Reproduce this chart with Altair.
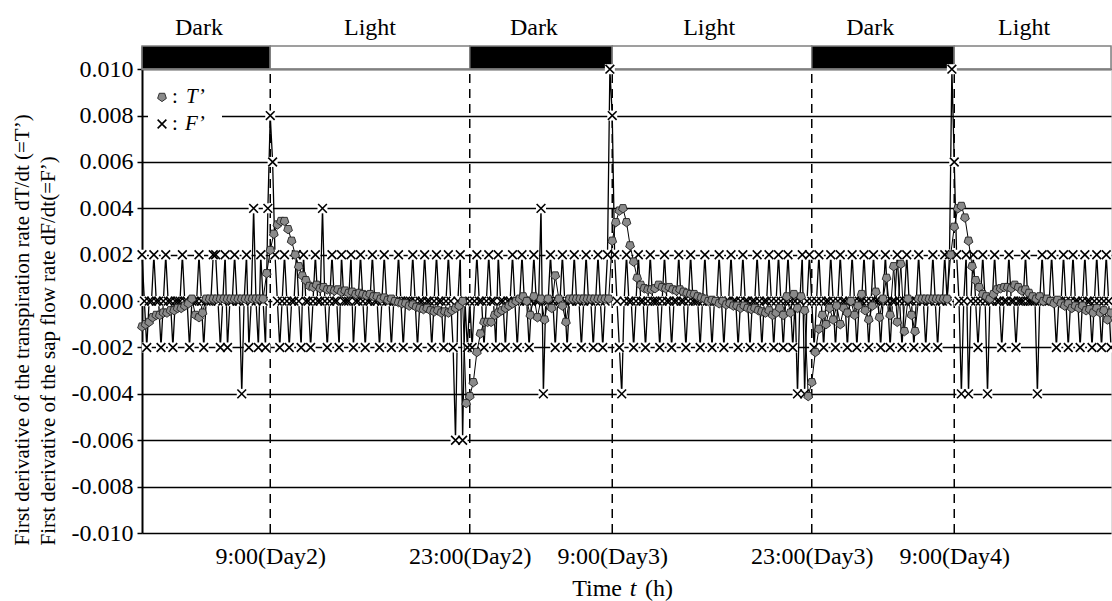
import altair as alt
import pandas as pd

# ---- light / dark periods (hours from 0:00 of Day 2) ----
PERIODS = ["Dark", "Light", "Dark", "Light", "Dark", "Light"]
PERIOD_START = [0, 9, 23, 33, 47, 57]
PERIOD_END = [9, 23, 33, 47, 57, 68]
LABEL_H = [4.0, 16.0, 27.5, 39.8, 51.1, 61.9]

# ---- x tick labels ----
TICK_H = [9, 23, 33, 47, 57]
TICK_LABELS = ["9:00(Day2)", "23:00(Day2)", "9:00(Day3)", "23:00(Day3)", "9:00(Day4)"]
Y_TICKS = [-0.010, -0.008, -0.006, -0.004, -0.002, 0.0, 0.002, 0.004, 0.006, 0.008, 0.010]

F_STEP_H = 1 / 6   # F' sampled every 10 min
T_STEP_H = 0.25    # T' sampled every 15 min

# ---- F' = dF/dt (units of 0.001), per period ----
F_DARK1 = [2, 0, -2, 0, 0, 2, 0, 0, -2, 0,
           2, 0, 0, -2, 0, 0, 0, 2, 0, 0,
           -2, 0, 0, 0, 2, 0, -2, 0, 0, 0,
           2, 2, 0, -2, 0, 2, -2, 0, 0, 2,
           0, 0, -4, 0, 2, -2, 0, 4, 0, -2,
           2, 0, -2, 4]
F_LIGHT1 = [8, 6, 2, 0, -2, 0, 2, 0, -2, 0,
            0, 2, 0, -2, 2, 0, 0, -2, 0, 2,
            0, 0, 4, 0, -2, 0, 2, 0, 0, -2,
            2, 0, 0, 0, 2, -2, 0, 0, 2, 0,
            -2, 0, 0, 2, 0, 0, -2, 0, 2, 0,
            0, -2, 0, 0, 2, 0, -2, 0, 0, 0,
            2, 0, -2, 0, 0, 2, 0, 0, -2, 0,
            2, 0, 0, -2, 0, 2, 0, -2, -6, 0,
            2, -6, 0, -2]
F_DARK2 = [0, -2, 0, 2, 0, 0, -2, 0, 2, 0,
           0, -2, 2, 0, 0, -2, 0, 0, 2, 0,
           -2, 0, 2, 0, 0, -2, 0, 2, 0, 0,
           4, -4, 0, 0, 2, 0, -2, 0, 0, 2,
           0, -2, 0, 0, 2, 0, 0, -2, 0, 2,
           0, 0, -2, 0, 2, 0, -2, 0, 2, 10]
F_LIGHT2 = [8, 2, 0, -2, -4, 0, 2, 0, 0, -2,
            0, 2, 0, 0, -2, 0, 2, 0, 0, 0,
            -2, 0, 2, 0, 0, -2, 0, 0, 2, 0,
            0, -2, 0, 2, 0, 0, 0, -2, 0, 2,
            0, 0, -2, 0, 0, 2, 0, -2, 0, 0,
            2, 0, 0, -2, 0, 2, 0, 0, -2, 0,
            0, 2, 0, -2, 0, 0, 2, 0, -2, 0,
            2, 0, -2, 0, 2, 0, -2, 0, -4, 0,
            2, -4, 0, 2]
F_DARK3 = [0, -2, 0, 2, 0, -2, 0, 0, 2, 0,
           -2, 0, 2, 0, 0, -2, 0, 2, 0, -2,
           0, 0, 2, 0, -2, 0, 2, 0, 0, -2,
           0, 2, 0, -2, 0, 0, 2, 0, -2, 0,
           2, 0, 0, -2, 0, 2, 0, 0, -2, 0,
           0, 2, 0, -2, 0, 0, 2, 0, 2, 10]
F_LIGHT3 = [6, 2, 0, -4, 0, 2, -4, 0, 2, 0,
            -2, 0, 2, 0, -4, 0, 0, 2, 0, 0,
            -2, 0, 0, 2, 0, 0, -2, 0, 0, 0,
            2, 0, 0, 0, 0, -4, 0, 2, 0, 0,
            0, 2, 0, -2, 0, 0, 2, 0, -2, 0,
            2, 0, 0, -2, 0, 2, 0, 0, -2, 0,
            2, 0, -2, 0, 2, 0, -2]

# ---- T' = dT/dt (units of 0.001), per period ----
T_DARK1 = [-1.1, -1.0, -0.9, -0.7, -0.6, -0.6, -0.5, -0.5, -0.4, -0.4,
           -0.3, -0.3, -0.2, -0.1, 0.1, -0.6, -0.7, -0.5, 0.1, 0.1,
           0.1, 0.1, 0.1, 0.1, 0.1, 0.1, 0.1, 0.1, 0.1, 0.1,
           0.1, 0.1, 0.1, 0.1, 0.1, 1.2]
T_LIGHT1 = [2.2, 2.9, 3.3, 3.45, 3.45, 3.1, 2.6, 2.0, 1.5, 1.1,
            0.9, 0.65, 0.6, 0.7, 0.55, 0.6, 0.5, 0.5, 0.45, 0.5,
            0.4, 0.45, 0.35, 0.4, 0.3, 0.35, 0.3, 0.25, 0.3, 0.2,
            0.2, 0.1, 0.15, 0.05, 0.1, 0.0, -0.05, -0.1, -0.1, -0.2,
            -0.15, -0.25, -0.3, -0.35, -0.3, -0.4, -0.45, -0.4, -0.5, -0.45,
            -0.5, -0.4, -0.3, -0.2, 0.0, -4.4]
T_DARK2 = [-4.1, -3.5, -2.2, -1.4, -0.9, -0.9, -0.9, -0.6, -0.5, -0.4,
           -0.3, -0.2, -0.1, 0.0, 0.1, 0.2, 0.0, -0.6, 0.2, -0.7,
           0.1, -0.8, 0.1, -0.3, 1.1, 0.1, -0.2, -0.9, 0.1, 0.1,
           0.1, 0.1, 0.1, 0.1, 0.1, 0.1, 0.1, 0.1, 0.1, 0.1]
T_LIGHT2 = [2.6, 3.4, 3.9, 4.0, 3.4, 2.4, 1.7, 1.0, 0.7, 0.55,
            0.5, 0.5, 0.55, 0.7, 0.6, 0.55, 0.6, 0.5, 0.45, 0.5,
            0.4, 0.35, 0.3, 0.3, 0.2, 0.15, 0.1, 0.0, 0.05, 0.0,
            -0.1, 0.0, -0.15, -0.1, -0.2, -0.2, -0.3, -0.2, -0.3, -0.35,
            -0.3, -0.4, -0.45, -0.5, -0.4, -0.6, -0.5, -0.3, -0.6, 0.2,
            -0.5, 0.3, -0.3, 0.2, -0.4, -4.1]
T_DARK3 = [-3.5, -2.2, -1.2, -0.6, -1.0, -0.3, -0.8, -0.2, -1.0, -0.3,
           -0.5, 0.0, -0.6, -0.2, 0.3, -0.4, -0.8, -0.2, 0.4, -0.7,
           0.1, 1.0, -0.6, 1.5, -0.9, 1.6, -1.3, 0.1, -0.6, -1.3,
           0.1, 0.1, 0.1, 0.1, 0.1, 0.1, 0.1, 0.1, 0.1, 2.0]
T_LIGHT3 = [3.2, 4.0, 4.1, 3.6, 2.6, 1.5, 0.9, 0.6, 0.3, 0.2,
            0.1, 0.3, 0.5, 0.55, 0.6, 0.6, 0.55, 0.7, 0.6, 0.45,
            0.5, 0.35, 0.2, 0.1, 0.2, 0.0, 0.1, 0.0, -0.1, 0.05,
            -0.1, -0.2, -0.1, -0.3, -0.2, -0.3, -0.2, -0.4, -0.35, -0.5,
            -0.3, -0.5, -0.4, -0.8, -0.5]

F_SEGS = [F_DARK1, F_LIGHT1, F_DARK2, F_LIGHT2, F_DARK3, F_LIGHT3]
T_SEGS = [T_DARK1, T_LIGHT1, T_DARK2, T_LIGHT2, T_DARK3, T_LIGHT3]

f_rows, t_rows = [], []
for start, fs, ts in zip(PERIOD_START, F_SEGS, T_SEGS):
    for i, f in enumerate(fs):
        f_rows.append({"h": start + i * F_STEP_H, "F": f / 1000.0})
    for i, t in enumerate(ts):
        t_rows.append({"h": start + i * T_STEP_H, "T": t / 1000.0})
df_f = pd.DataFrame(f_rows)
df_t = pd.DataFrame(t_rows)

periods = pd.DataFrame({"p": PERIODS, "s": PERIOD_START, "e": PERIOD_END, "lh": LABEL_H})
ticks = pd.DataFrame({"h": TICK_H})
one = pd.DataFrame({"a": [0]})

FONT = "Liberation Serif"
W, H = 969, 487

xs = alt.Scale(domain=[0, 68], nice=False, zero=False)
ys = alt.Scale(domain=[-0.010, 0.011], nice=False, zero=False)

label_expr = " : ".join(
    f"datum.value == {h} ? '{lab}'" for h, lab in zip(TICK_H, TICK_LABELS)
) + " : ''"

x_axis = alt.Axis(values=TICK_H, labelExpr=label_expr, ticks=False, grid=False,
                  domain=False, labelFont=FONT, labelFontSize=24, labelColor="black",
                  labelPadding=11, title=None, labelFlush=False, labelOverlap=False)
y_axis = alt.Axis(values=Y_TICKS,
                  labelExpr="replace(format(datum.value, '.3f'), '\u2212', '-')",
                  grid=True, gridColor="black", gridWidth=1.5,
                  tickColor="black", tickWidth=1.5, tickSize=5,
                  domainColor="black", domainWidth=2,
                  labelFont=FONT, labelFontSize=24, labelColor="black", labelPadding=4,
                  title=["First derivative of the transpiration rate dT/dt (=T\u2019)",
                         "First derivative of the sap flow rate dF/dt(=F\u2019)"],
                  titleFont=FONT, titleFontSize=21, titleFontWeight="normal",
                  titleColor="black", titleAngle=270, titleAlign="left",
                  titleBaseline="top", titleX=-131, titleY=499, titleLineHeight=26,
                  labelFlush=False, labelOverlap=False)

X = alt.X("h:Q", scale=xs, axis=x_axis)
Y_F = alt.Y("F:Q", scale=ys, axis=y_axis)

# strip with dark / light
strip = alt.Chart(periods).mark_rect(stroke="#808080", strokeWidth=1.5).encode(
    x=alt.X("s:Q", scale=xs, axis=x_axis), x2="e:Q",
    y=alt.datum(0.010, scale=ys), y2=alt.datum(0.011),
    fill=alt.Fill("p:N", scale=alt.Scale(domain=["Dark", "Light"], range=["black", "white"]), legend=None),
)
strip_text = alt.Chart(periods).mark_text(font=FONT, fontSize=24, color="black", baseline="middle").encode(
    x=alt.X("lh:Q", scale=xs), y=alt.value(-18), text="p:N"
)

top_rule = alt.Chart(one).mark_rule(color="#808080", strokeWidth=2).encode(
    y=alt.datum(0.010, scale=ys)
)

dashes = alt.Chart(ticks).mark_rule(color="black", strokeWidth=1.5, strokeDash=[9, 6]).encode(
    x=alt.X("h:Q", scale=xs), y=alt.datum(-0.010, scale=ys), y2=alt.datum(0.010)
)

f_line = alt.Chart(df_f).mark_line(color="black", strokeWidth=1.3).encode(x=X, y=Y_F)
f_box = alt.Chart(df_f).mark_point(shape="square", filled=True, color="white", opacity=1, size=100).encode(
    x=alt.X("h:Q", scale=xs), y=alt.Y("F:Q", scale=ys))
XSHAPE = "M-1,-1L1,1M-1,1L1,-1"
f_pts = alt.Chart(df_f).mark_point(shape=XSHAPE, filled=False, color="black", strokeWidth=1.6,
                                    size=76, opacity=1).encode(
    x=alt.X("h:Q", scale=xs), y=alt.Y("F:Q", scale=ys))

PENT = "M0,1L0.951,0.309L0.588,-0.809L-0.588,-0.809L-0.951,0.309Z"
t_line = alt.Chart(df_t).mark_line(color="black", strokeWidth=1).encode(
    x=alt.X("h:Q", scale=xs), y=alt.Y("T:Q", scale=ys))
t_pts = alt.Chart(df_t).mark_point(shape=PENT, filled=True, fill="#8a8a8a", stroke="#222222",
                                    strokeWidth=0.9, size=85, opacity=1).encode(
    x=alt.X("h:Q", scale=xs), y=alt.Y("T:Q", scale=ys))

# legend (inside plot, top-left)
leg_bg = alt.Chart(one).mark_rect(color="white").encode(
    x=alt.value(6), x2=alt.value(80), y=alt.value(34), y2=alt.value(92))
leg_t = alt.Chart(one).mark_point(shape=PENT, filled=True, fill="#8a8a8a", stroke="#222222",
                                   strokeWidth=0.9, size=85, opacity=1).encode(
    x=alt.value(20), y=alt.value(51))
leg_f = alt.Chart(one).mark_point(shape=XSHAPE, filled=False, color="black", strokeWidth=1.6,
                                   size=76, opacity=1).encode(x=alt.value(20), y=alt.value(78))
leg_c1 = alt.Chart(one).mark_text(text=":", font=FONT, fontSize=21, color="black", align="left",
                                   baseline="middle").encode(x=alt.value(30), y=alt.value(51))
leg_c2 = alt.Chart(one).mark_text(text=":", font=FONT, fontSize=21, color="black", align="left",
                                   baseline="middle").encode(x=alt.value(30), y=alt.value(78))
leg_l1 = alt.Chart(one).mark_text(text="T\u2019", font=FONT, fontStyle="italic", fontSize=21,
                                   color="black", align="left", baseline="middle").encode(
    x=alt.value(44), y=alt.value(51))
leg_l2 = alt.Chart(one).mark_text(text="F\u2019", font=FONT, fontStyle="italic", fontSize=21,
                                   color="black", align="left", baseline="middle").encode(
    x=alt.value(43), y=alt.value(78))

# x-axis title "Time t (h)"
xt1 = alt.Chart(one).mark_text(text="Time", font=FONT, fontSize=24, color="black", align="right",
                                baseline="middle").encode(x=alt.value(480), y=alt.value(543))
xt2 = alt.Chart(one).mark_text(text="t", font=FONT, fontStyle="italic", fontSize=24, color="black",
                                align="center", baseline="middle").encode(x=alt.value(491), y=alt.value(543))
xt3 = alt.Chart(one).mark_text(text="(h)", font=FONT, fontSize=24, color="black", align="left",
                                baseline="middle").encode(x=alt.value(503), y=alt.value(543))

chart = alt.layer(
    strip, strip_text, dashes, top_rule, f_line, f_box, f_pts, t_line, t_pts,
    leg_bg, leg_t, leg_f, leg_c1, leg_c2, leg_l1, leg_l2, xt1, xt2, xt3,
).resolve_scale(fill="independent").properties(
    width=W, height=H,
    autosize=alt.AutoSizeParams(type="none"),
    padding={"left": 142, "top": 46, "right": 1, "bottom": 68},
).configure_view(stroke="#808080", strokeWidth=2).configure(background="white")

chart.save("out.html", embed_options={"renderer": "svg", "actions": False})
